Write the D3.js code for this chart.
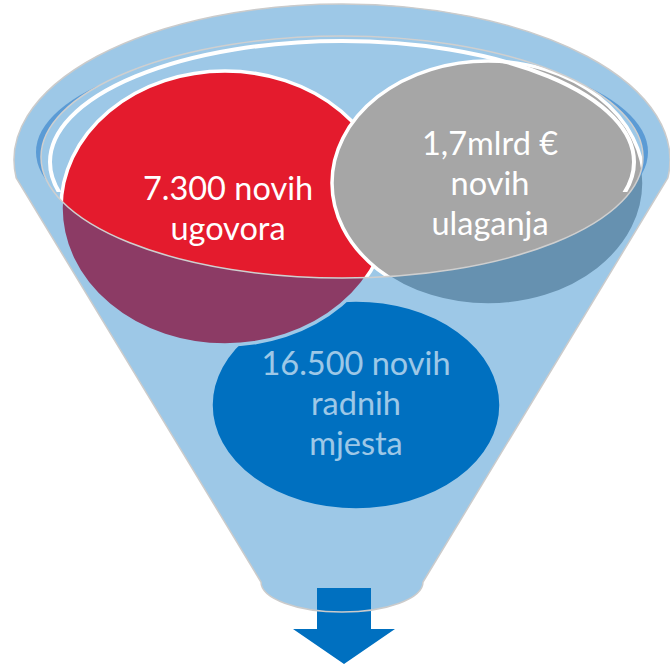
<!DOCTYPE html>
<html>
<head>
<meta charset="utf-8">
<style>
body { margin: 0; background: #fff; }
svg { display: block; }
.lbl { font-family: Lato, "Open Sans", sans-serif; font-weight: 400; fill: #fff; text-anchor: middle; }
</style>
</head>
<body>
<svg width="670" height="665"></svg>
<script src="https://cdn.jsdelivr.net/npm/d3@7/dist/d3.min.js"></script>
<script>
// items drawn back to front: blue, red, grey
var labels = [
  ["16.500 novih", "radnih", "mjesta"],
  ["7.300 novih", "ugovora"],
  ["1,7mlrd €", "novih", "ulaganja"]
];
var fills = ["#0070C0", "#E41B2D", "#A6A6A6"];

// layout of the funnel diagram
var bubbles = [
  {cx: 356, cy: 405, rx: 145, ry: 105, tx: 356, ty: 375},
  {cx: 225, cy: 208, rx: 164, ry: 137, tx: 228, ty: 200},
  {cx: 488, cy: 183, rx: 156, ry: 122, tx: 490, ty: 155}
];
var rim   = {cx: 342, cy: 160, rx: 328, ry: 156};
var mouth = {cx: 342, cy: 157, rx: 301, ry: 121};
var shade = {cx: 342, cy: 152, rx: 306, ry: 110};
var shine = {cx: 342, cy: 162, rx: 292, ry: 121};
var neck  = {y: 582, half: 81, dip: 30};
var lineH = 40, fontSize = 32.5;

var svg = d3.select("svg");
var defs = svg.append("defs");

function ellipsePath(e) {
  return "M" + (e.cx - e.rx) + "," + e.cy +
    "a" + e.rx + "," + e.ry + " 0 1,0 " + (2 * e.rx) + ",0" +
    "a" + e.rx + "," + e.ry + " 0 1,0 " + (-2 * e.rx) + ",0Z";
}

function funnelPath() {
  var ty = 178;
  var dx = rim.rx * Math.sqrt(1 - Math.pow((ty - rim.cy) / rim.ry, 2));
  return "M" + (rim.cx - dx) + "," + ty +
    "A" + rim.rx + "," + rim.ry + " 0 1,1 " + (rim.cx + dx) + "," + ty +
    "L" + (rim.cx + neck.half) + "," + neck.y +
    "A" + neck.half + "," + neck.dip + " 0 0,1 " + (rim.cx - neck.half) + "," + neck.y + "Z";
}

// outside of the mouth, for the dark crescent
defs.append("clipPath").attr("id", "outside-mouth")
  .append("path")
    .attr("clip-rule", "evenodd")
    .attr("d", "M0,0H670V665H0Z" + ellipsePath(mouth));

defs.append("clipPath").attr("id", "upper")
  .append("rect").attr("x", 0).attr("y", 0).attr("width", 670).attr("height", 192);

// inside of the funnel mouth
svg.append("path")
    .attr("d", ellipsePath(mouth))
    .attr("fill", "#9dc8e7");

// arrow under the funnel
var ax = 344;
svg.append("path")
    .attr("d", d3.line()([
      [ax - 27, 588], [ax + 27, 588], [ax + 27, 629], [ax + 51, 629],
      [ax, 664], [ax - 51, 629], [ax - 27, 629]
    ]) + "Z")
    .attr("fill", "#0070C0");

// bubbles
var g = svg.selectAll("g.bubble")
  .data(bubbles)
  .enter().append("g")
    .attr("class", "bubble");

g.append("ellipse")
    .attr("cx", function(d) { return d.cx; })
    .attr("cy", function(d) { return d.cy; })
    .attr("rx", function(d) { return d.rx; })
    .attr("ry", function(d) { return d.ry; })
    .attr("fill", function(d, i) { return fills[i]; })
    .attr("stroke", "#fff")
    .attr("stroke-width", 3.5);

g.append("text")
    .attr("class", "lbl")
    .style("font-size", fontSize + "px")
  .selectAll("tspan")
    .data(function(d, i) { return labels[i].map(function(t) { return {t: t, b: d}; }); })
  .enter().append("tspan")
    .attr("x", function(d) { return d.b.tx; })
    .attr("y", function(d, j) { return d.b.ty + j * lineH; })
    .text(function(d) { return d.t; });

// translucent funnel body over everything except the mouth
svg.append("path")
    .attr("d", funnelPath() + ellipsePath(mouth))
    .attr("fill-rule", "evenodd")
    .attr("fill", "#0070C0")
    .attr("fill-opacity", 0.385);

// darker crescent inside the rim
svg.append("path")
    .attr("d", ellipsePath(shade))
    .attr("clip-path", "url(#outside-mouth)")
    .attr("fill", "#5b9bd5");

// highlight along the inner rim
svg.append("path")
    .attr("d", ellipsePath(shine))
    .attr("clip-path", "url(#upper)")
    .attr("fill", "none")
    .attr("stroke", "#fff")
    .attr("stroke-width", 4);

svg.append("path")
    .attr("d", ellipsePath(mouth))
    .attr("fill", "none")
    .attr("stroke", "#cfcfcf")
    .attr("stroke-width", 1.5);

svg.append("path")
    .attr("d", funnelPath())
    .attr("fill", "none")
    .attr("stroke", "#cbcbcb")
    .attr("stroke-width", 1.5);
</script>
</body>
</html>
